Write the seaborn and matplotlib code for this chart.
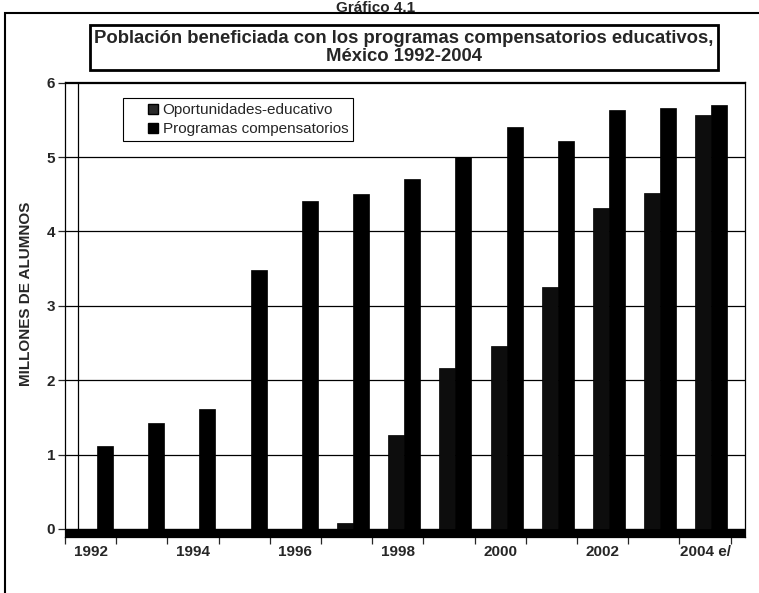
import pandas as pd
import numpy as np
import seaborn as sns
import matplotlib.pyplot as plt
from matplotlib.patches import Rectangle
from matplotlib.lines import Line2D

years = ['1992', '1993', '1994', '1995', '1996', '1997', '1998',
         '1999', '2000', '2001', '2002', '2003', '2004']
tick_labels = ['1992', '', '1994', '', '1996', '', '1998',
               '', '2000', '', '2002', '', '2004 e/']
oportunidades = [0, 0, 0, 0, 0, 0.08, 1.26, 2.16, 2.46, 3.26, 4.31, 4.52, 5.57]
compensatorios = [1.12, 1.43, 1.61, 3.48, 4.41, 4.50, 4.71, 5.00, 5.41, 5.22, 5.63, 5.66, 5.70]
series = ['Oportunidades-educativo', 'Programas compensatorios']
colors = ['#0d0d0d', '#000000']

df = pd.DataFrame({
    'year': years * 2,
    'value': oportunidades + compensatorios,
    'serie': [series[0]] * len(years) + [series[1]] * len(years),
})

sns.set_style('white')
plt.rcParams['font.family'] = ['Liberation Sans', 'DejaVu Sans']

W, H = 759, 593
fig = plt.figure(figsize=(W / 100, H / 100), dpi=100)
# axes: front spine x=65..745 px, y=82..537 px
ax = fig.add_axes([65 / W, (H - 537) / H, 680 / W, 455 / H])

sns.barplot(data=df, x='year', y='value', hue='serie', order=years, hue_order=series,
            palette=colors, width=0.625, saturation=1,
            edgecolor='black', linewidth=0.5, ax=ax, zorder=3, legend=False)

ax.set_xlim(-0.625, 12.655)
ax.set_ylim(-0.108, 6.01)

# floor band and back wall edge
ax.axhspan(-0.108, 0.0, color='black', zorder=2)
ax.axvline(-0.37, ymin=0.0, ymax=1.0, color='black', lw=0.9, zorder=1)
for v in range(1, 7):
    ax.axhline(v, color='black', lw=0.9, zorder=1)

ax.set_yticks(range(0, 7))
ax.set_yticklabels([str(v) for v in range(0, 7)], fontsize=11, fontweight='bold')
ax.tick_params(axis='y', direction='out', length=5, width=0.9, pad=2, left=True)

ax.set_xticks(np.arange(13) - 0.125)
ax.set_xticklabels(tick_labels, fontsize=11, fontweight='bold')
ax.set_xticks(np.arange(14) - 0.625, minor=True)
ax.tick_params(axis='x', which='major', length=0, pad=6)
ax.tick_params(axis='x', which='minor', direction='out', length=5, width=0.9, bottom=True)

ax.set_xlabel('')
ax.set_ylabel('MILLONES DE ALUMNOS', fontsize=11, fontweight='bold')
ax.yaxis.set_label_coords(-0.047, 0.534)

for s in ax.spines.values():
    s.set_color('black')
    s.set_linewidth(0.9)

handles = [Line2D([], [], linestyle='none', marker='s', markersize=7,
                  markerfacecolor=c, markeredgecolor='black') for c in ['#2a2a2a', colors[1]]]
leg = ax.legend(handles, series, loc='upper left', bbox_to_anchor=(0.085, 0.965),
                fontsize=11, frameon=True, fancybox=False, framealpha=1,
                edgecolor='black', handlelength=3.3, handletextpad=-1.05,
                labelspacing=0.3, borderpad=0.35, borderaxespad=0)
leg.get_frame().set_linewidth(0.8)

# title box
fig.text(404 / W, (H - 47.5) / H,
         'Población beneficiada con los programas compensatorios educativos,\nMéxico 1992-2004',
         ha='center', va='center', fontsize=13.3, fontweight='bold', linespacing=1.15,
         bbox=dict(boxstyle='square,pad=0.25', facecolor='white', edgecolor='black', linewidth=2))

# chart number at the top edge
fig.text(376 / W, (H - 12) / H, 'Gráfico 4.1', ha='center', va='baseline',
         fontsize=11, fontweight='bold')

# outer frame
fig.add_artist(Rectangle((5 / W, -0.1), 1.2, (H - 13) / H + 0.1, transform=fig.transFigure,
                         fill=False, edgecolor='black', linewidth=1.5))

fig.savefig('out.png', dpi=100)
